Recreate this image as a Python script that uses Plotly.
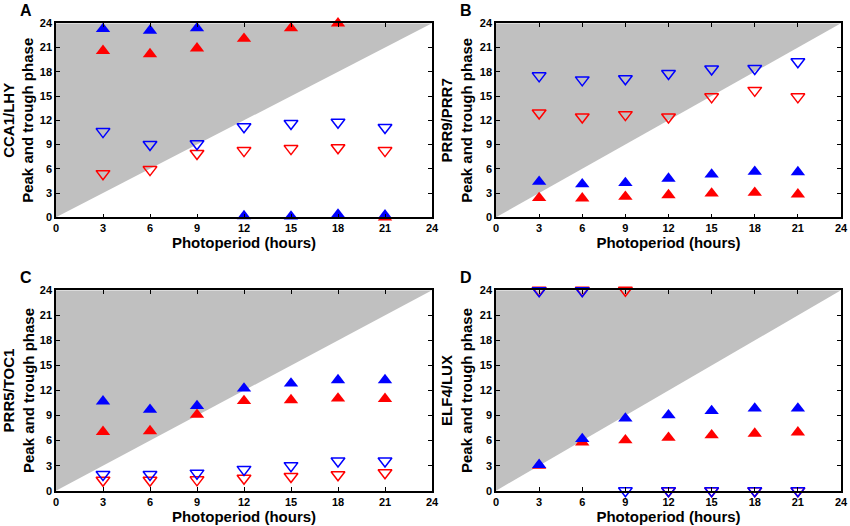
import plotly.graph_objects as go

# photoperiods (hours of light)
photoperiod = [3, 6, 9, 12, 15, 18, 21]

# CCA1/LHY
cca1_peak_blue = [23.3, 23.1, 23.4, 0.15, 0.1, 0.35, 0.25]
cca1_peak_red = [20.6, 20.2, 20.9, 22.1, 23.4, 24.0, 0.0]
cca1_trough_blue = [10.6, 9.0, 9.1, 11.2, 11.6, 11.75, 11.1]
cca1_trough_red = [5.4, 5.9, 7.9, 8.25, 8.5, 8.6, 8.25]

# PRR9/PRR7
prr9_peak_blue = [4.4, 4.1, 4.25, 4.8, 5.3, 5.65, 5.6]
prr9_peak_red = [2.4, 2.35, 2.55, 2.75, 2.95, 3.05, 2.85]
prr9_trough_blue = [17.5, 17.0, 17.15, 17.8, 18.35, 18.4, 19.25]
prr9_trough_red = [12.9, 12.4, 12.7, 12.4, 14.9, 15.7, 14.9]

# PRR5/TOC1
prr5_peak_blue = [10.7, 9.7, 10.15, 12.25, 12.85, 13.25, 13.25]
prr5_peak_red = [7.05, 7.15, 9.1, 10.75, 10.85, 11.05, 11.0]
prr5_trough_blue = [1.95, 1.95, 2.1, 2.55, 3.0, 3.55, 3.55]
prr5_trough_red = [1.25, 1.25, 1.3, 1.5, 1.7, 1.9, 2.15]

# ELF4/LUX
elf4_peak_blue = [3.1, 6.2, 8.65, 9.05, 9.55, 9.85, 9.85]
elf4_peak_red = [3.0, 5.8, 6.05, 6.35, 6.65, 6.85, 7.0]
elf4_trough_blue = [23.95, 23.95, 0.0, 0.0, 0.0, 0.0, 0.0]
elf4_trough_red = [24.0, 24.0, 24.0, 0.0, 0.0, 0.0, 0.0]

panel_letters = ["A", "B", "C", "D"]
gene_names = ["CCA1/LHY", "PRR9/PRR7", "PRR5/TOC1", "ELF4/LUX"]
panel_data = [
    (cca1_peak_red, cca1_peak_blue, cca1_trough_red, cca1_trough_blue),
    (prr9_peak_red, prr9_peak_blue, prr9_trough_red, prr9_trough_blue),
    (prr5_peak_red, prr5_peak_blue, prr5_trough_red, prr5_trough_blue),
    (elf4_peak_red, elf4_peak_blue, elf4_trough_red, elf4_trough_blue),
]

axis_max = 24
tick_vals = [0, 3, 6, 9, 12, 15, 18, 21, 24]

W, H = 850, 526
# plot boxes in pixels: (left, right, top, bottom)
boxes = [(56, 432, 23.3, 217.3), (496, 841, 23.3, 217.3),
         (56, 432, 290.3, 490.7), (496, 841, 290.3, 490.7)]

FONT = "Liberation Sans"
RED = "#ff0000"
BLUE = "#0000ff"

fig = go.Figure()

for i, (peak_r, peak_b, trough_r, trough_b) in enumerate(panel_data):
    n = "" if i == 0 else str(i + 1)
    xa, ya = "x" + n, "y" + n

    # shaded region above the diagonal (phase later than dusk)
    fig.add_trace(go.Scatter(
        x=[0, 0, axis_max, 0], y=[0, axis_max, axis_max, 0],
        mode="lines", fill="toself", fillcolor="#c0c0c0",
        line=dict(width=0), hoverinfo="skip", showlegend=False,
        xaxis=xa, yaxis=ya))

    for vals, col in [(trough_r, RED), (trough_b, BLUE)]:
        fig.add_trace(go.Scatter(
            x=photoperiod, y=vals, mode="markers", cliponaxis=False,
            marker=dict(symbol="triangle-down-open", size=12, color=col,
                        line=dict(width=1.5, color=col)),
            showlegend=False, xaxis=xa, yaxis=ya))
    for vals, col in [(peak_r, RED), (peak_b, BLUE)]:
        fig.add_trace(go.Scatter(
            x=photoperiod, y=vals, mode="markers", cliponaxis=False,
            marker=dict(symbol="triangle-up", size=12.5, color=col,
                        line=dict(width=0)),
            showlegend=False, xaxis=xa, yaxis=ya))

    l, r, t, b = boxes[i]
    common = dict(range=[0, axis_max], tickvals=tick_vals, ticks="inside",
                  ticklen=4, tickwidth=1, tickcolor="black",
                  showline=True, linecolor="black", linewidth=1.5,
                  mirror="allticks", showgrid=False, zeroline=False,
                  automargin=False,
                  tickfont=dict(family=FONT, size=11, color="black", weight="bold"),
                  fixedrange=True)
    fig.update_layout(**{
        ("xaxis" + n): dict(domain=[l / W, r / W], anchor=ya,
                            title=dict(text="Photoperiod (hours)", standoff=4,
                                       font=dict(family=FONT, size=15, color="black", weight="bold")),
                            **common),
        ("yaxis" + n): dict(domain=[1 - b / H, 1 - t / H], anchor=xa,
                            title=dict(text=gene_names[i] + "<br>Peak and trough phase", standoff=4,
                                       font=dict(family=FONT, size=15, color="black", weight="bold")),
                            **common),
    })

    fig.add_annotation(text=panel_letters[i], xref="paper", yref="paper",
                       x=(l - 38) / W, y=1 - (t - 13) / H, showarrow=False,
                       xanchor="left", yanchor="middle",
                       font=dict(family=FONT, size=16, color="black", weight="bold"))

fig.update_layout(template="none", width=W, height=H,
                  margin=dict(l=0, r=0, t=0, b=0),
                  paper_bgcolor="white", plot_bgcolor="white")

# page body has a default 8px margin; drop it so the figure fills the window
fig.write_html("out.html", config={"displayModeBar": False},
               post_script="document.body.style.margin='0';")
